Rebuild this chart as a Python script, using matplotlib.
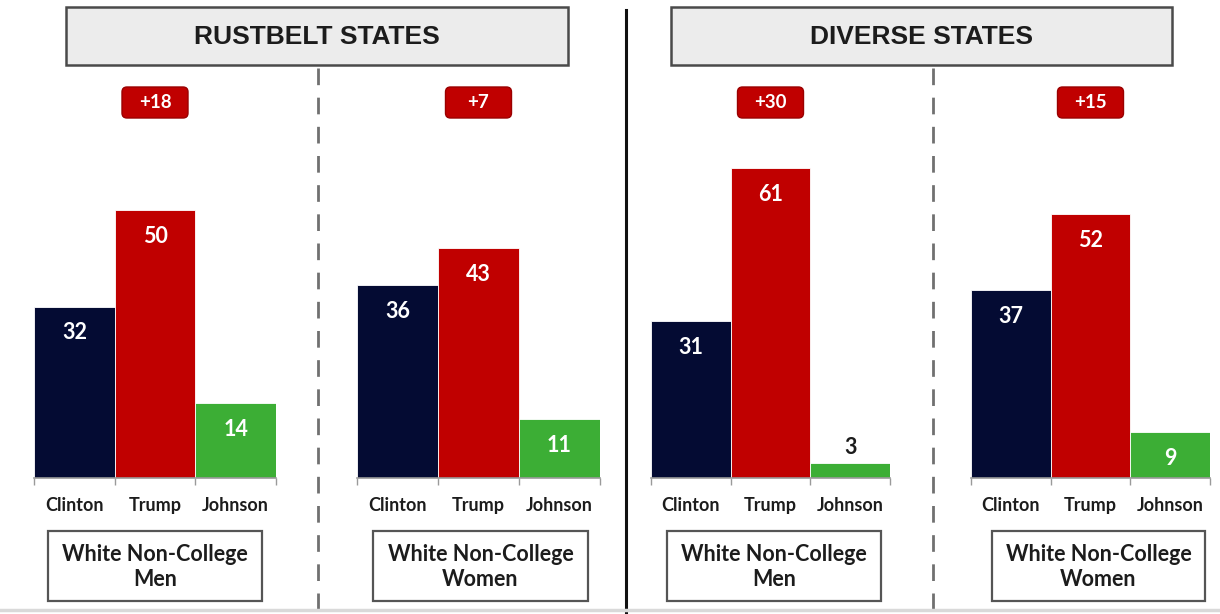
import matplotlib
matplotlib.use('Agg')
import matplotlib.pyplot as plt
from matplotlib.patches import Rectangle, FancyBboxPatch

W, H = 1220, 614

candidates = ["Clinton", "Trump", "Johnson"]
regions = ["RUSTBELT STATES", "DIVERSE STATES"]
groups = ["White Non-College\nMen", "White Non-College\nWomen"]
rustbelt_men = [32, 50, 14]
rustbelt_women = [36, 43, 11]
diverse_men = [31, 61, 3]
diverse_women = [37, 52, 9]

bar_colors = ["#040b33", "#c00000", "#3cae35"]
red = "#c00000"
txt = "#1c1c1c"
font = "Lato"


def fx(px):
    return px / W


def fy(py):
    return 1 - py / H


fig = plt.figure(figsize=(W / 100, H / 100), dpi=100)

# panel layout in pixels: left, right, y-limit
panels = [
    (rustbelt_men, 34, 276, 74.3, groups[0]),
    (rustbelt_women, 357, 600, 74.3, groups[1]),
    (diverse_men, 651, 890, 78.4, groups[0]),
    (diverse_women, 971, 1210, 78.4, groups[1]),
]
base_y = 478
top_y = 80

bar_axes = []
for vals, left, right, ymax, grp in panels:
    ax = fig.add_axes([fx(left), fy(base_y), (right - left) / W, (base_y - top_y) / H])
    ax.bar(range(3), vals, width=1.0, color=bar_colors, edgecolor="white", linewidth=0.6)
    ax.set_xlim(-0.5, 2.5)
    ax.set_ylim(0, ymax)
    for s in ["top", "right", "left"]:
        ax.spines[s].set_visible(False)
    ax.spines["bottom"].set_color("#9a9a9a")
    ax.spines["bottom"].set_linewidth(1.2)
    ax.set_yticks([])
    ax.set_xticks(range(3))
    ax.set_xticklabels(candidates, fontfamily=font, fontweight="bold", fontsize=13, color=txt)
    ax.tick_params(axis="x", which="major", length=0, pad=14)
    ax.set_xticks([-0.5, 0.5, 1.5, 2.5], minor=True)
    ax.tick_params(axis="x", which="minor", length=5, color="#9a9a9a", width=1)
    ax.patch.set_alpha(0)
    for i, v in enumerate(vals):
        if v < 6:
            ax.annotate(str(v), (i, v), xytext=(0, 11), textcoords="offset points",
                        ha="center", va="center", fontfamily=font, fontweight="bold",
                        fontsize=15.5, color=txt)
        else:
            ax.annotate(str(v), (i, v), xytext=(0, -19), textcoords="offset points",
                        ha="center", va="center", fontfamily=font, fontweight="bold",
                        fontsize=15.5, color="white")
    bar_axes.append((ax, vals, grp))

# overlay in pixel coordinates
ov = fig.add_axes([0, 0, 1, 1])
ov.set_xlim(0, W)
ov.set_ylim(H, 0)
ov.axis("off")
ov.patch.set_alpha(0)

# region headers
for name, x0, x1 in [(regions[0], 66, 568), (regions[1], 671, 1172)]:
    ov.add_patch(Rectangle((x0, 7), x1 - x0, 58, facecolor="#ececec", edgecolor="#4a4a4a", lw=1.8))
    ov.text((x0 + x1) / 2, 37, name, ha="center", va="center", fontfamily="Liberation Sans",
            fontweight="bold", fontsize=19, color=txt)

# separators
ov.plot([626, 626], [10, H], color="#111111", lw=2.2)
for x in [318, 933]:
    ov.plot([x, x], [68, H], color="#707070", lw=2, dashes=(6, 4.5))
ov.plot([0, W], [610, 610], color="#d9d9d9", lw=2.5)

# margin boxes and group labels
box_spans = [(48, 262), (373, 588), (667, 881), (992, 1205)]
fig.canvas.draw()
for (ax, vals, grp), (b0, b1) in zip(bar_axes, box_spans):
    cx = ax.transData.transform((1, 0))[0]
    margin = vals[1] - vals[0]
    ov.add_patch(FancyBboxPatch((cx - 33, 87), 66, 31, boxstyle="round,pad=0,rounding_size=5",
                                facecolor=red, edgecolor="#9a0000", lw=1))
    ov.text(cx, 102, f"+{margin}", ha="center", va="center", fontfamily=font,
            fontweight="bold", fontsize=13.5, color="white")
    ov.add_patch(Rectangle((b0, 531), b1 - b0, 70, facecolor="white", edgecolor="#555555", lw=1.6))
    ov.text((b0 + b1) / 2, 567, grp, ha="center", va="center", fontfamily=font,
            fontweight="bold", fontsize=15.5, color=txt, linespacing=1.25)

fig.savefig("out.png", dpi=100)
